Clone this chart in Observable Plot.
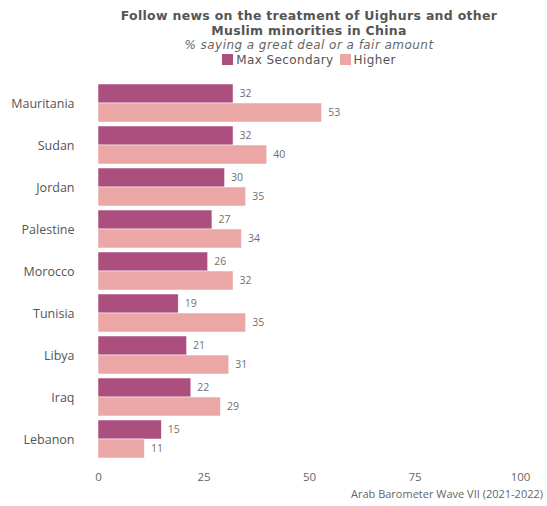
<!DOCTYPE html>
<html>
<head>
<meta charset="utf-8">
<script src="https://cdn.jsdelivr.net/npm/d3@7"></script>
<script src="https://cdn.jsdelivr.net/npm/@observablehq/plot@0.6"></script>
<style>
  body { margin: 0; background: #fff; font-family: "Open Sans", sans-serif; }
  #wrap { width: 547px; height: 506px; position: relative; }
  #header { position: absolute; left: 98px; width: 422px; top: 9px; text-align: center; color: #555; font-family: "DejaVu Sans", sans-serif; }
  #title { font-weight: 700; font-size: 12.5px; line-height: 14.5px; color: #555; letter-spacing: 0.3px; }
  #subtitle { font-style: italic; font-size: 12px; line-height: 14.5px; color: #666; letter-spacing: 0.45px; }
  #legend { font-size: 12px; line-height: 14.5px; height: 14.5px; color: #555; display: flex; justify-content: center; align-items: center; gap: 6px; letter-spacing: 0.4px; }
  .sw { display: inline-block; width: 11px; height: 11px; margin-right: 3px; vertical-align: -1px; }
  #chart { position: absolute; top: 68px; left: 0; }
  #caption { position: absolute; top: 487px; right: 4px; font-size: 11px; color: #666; line-height: 14px; }
</style>
</head>
<body>
<div id="wrap">
  <div id="header">
    <div id="title">Follow news on the treatment of Uighurs and other<br>Muslim minorities in China</div>
    <div id="subtitle">% saying a great deal or a fair amount</div>
    <div id="legend"></div>
  </div>
  <div id="chart"></div>
  <div id="caption">Arab Barometer Wave VII (2021-2022)</div>
</div>
<script>
const countries = ["Mauritania","Sudan","Jordan","Palestine","Morocco","Tunisia","Libya","Iraq","Lebanon"];
const groups = ["Max Secondary","Higher"];
const maxSecondary = [32,32,30,27,26,19,21,22,15];
const higher = [53,40,35,34,32,35,31,29,11];
const colors = ["#ad4f7e","#eba6a6"];
const xTicks = [0,25,50,75,100];

const data = [];
countries.forEach((c,i) => {
  data.push({country: c, group: groups[0], value: maxSecondary[i]});
  data.push({country: c, group: groups[1], value: higher[i]});
});

const legend = document.getElementById("legend");
groups.forEach((g,i) => {
  const s = document.createElement("span");
  s.innerHTML = `<span class="sw" style="background:${colors[i]}"></span>${g}`;
  legend.appendChild(s);
});

const chart = Plot.plot({
  width: 547,
  height: 419,
  marginTop: 14,
  marginBottom: 27,
  marginLeft: 98,
  marginRight: 27,
  style: {fontFamily: "Open Sans, sans-serif", fontSize: "11px", color: "#666"},
  x: {domain: [0,100], ticks: xTicks, label: null},
  y: {domain: groups, axis: null, padding: 0},
  fy: {domain: countries, paddingInner: 0.1, paddingOuter: 0, label: null},
  color: {domain: groups, range: colors},
  facet: {marginTop: 0, marginBottom: 0},
  marks: [
    Plot.barX(data, {fy: "country", y: "group", x: "value", fill: "group", stroke: "white", strokeWidth: 0.5}),
    Plot.text(data, {fy: "country", y: "group", x: "value", text: d => String(d.value), textAnchor: "start", dx: 6, fill: "#707070", fontSize: 10.5}),
    Plot.axisX({ticks: xTicks, tickSize: 0, tickPadding: 14, label: null, fill: "#666", fontSize: 11.5}),
    Plot.axisFy({anchor: "left", tickSize: 0, tickPadding: 24, label: null, fill: "#555", fontSize: 12.5})
  ]
});
document.getElementById("chart").appendChild(chart);
</script>
</body>
</html>
